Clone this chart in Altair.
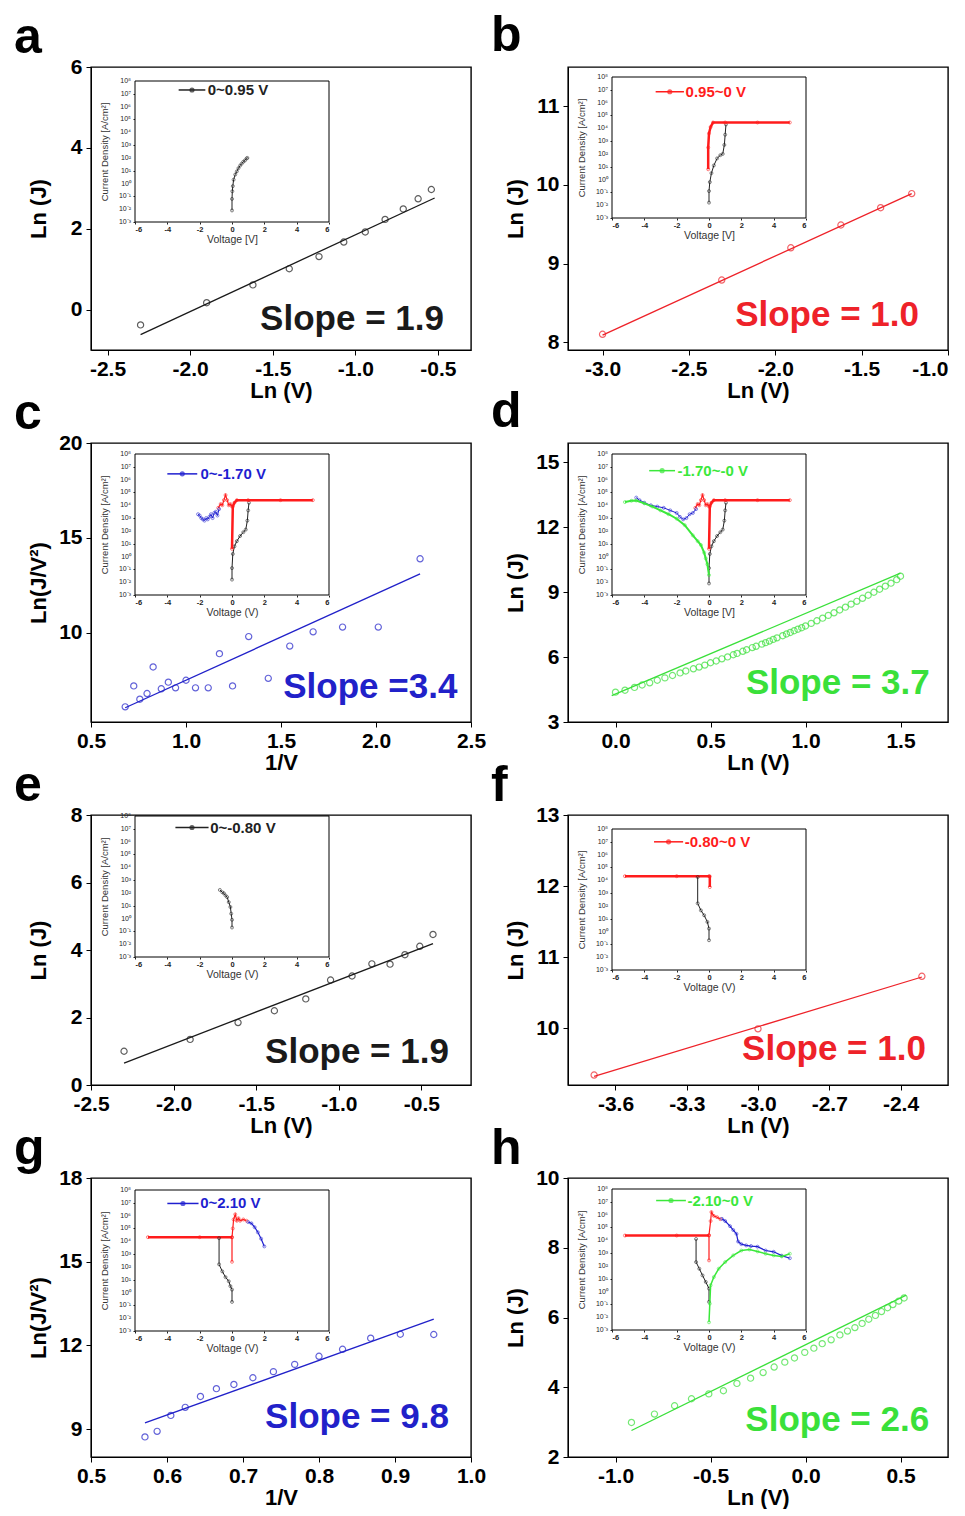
import altair as alt
import pandas as pd

FONT = "Liberation Sans"
C_BLACK = "#1a1a1a"
C_RED = "#ee2229"
C_BLUE = "#2121c9"
C_GREEN = "#3ae03a"

# ---------------- main-plot data ----------------
A_X = [-2.30, -1.90, -1.62, -1.40, -1.22, -1.07, -0.94, -0.82, -0.71, -0.62, -0.54]
A_Y = [-0.38, 0.17, 0.61, 1.01, 1.31, 1.67, 1.92, 2.23, 2.49, 2.74, 2.97]
A_FIT_X = [-2.30, -0.52]
A_FIT_Y = [-0.62, 2.76]

B_X = [-3.00, -2.31, -1.91, -1.62, -1.39, -1.21]
B_Y = [8.10, 8.79, 9.20, 9.49, 9.71, 9.89]
B_FIT_X = [-3.00, -1.21]
B_FIT_Y = [8.09, 9.89]

C_X = [0.68, 0.725, 0.757, 0.795, 0.827, 0.87, 0.907, 0.945, 1.00, 1.05, 1.117, 1.176,
       1.245, 1.33, 1.433, 1.546, 1.669, 1.824, 2.012, 2.232]
C_Y = [6.1, 7.2, 6.5, 6.8, 8.2, 7.05, 7.4, 7.1, 7.5, 7.1, 7.1, 8.9,
       7.2, 9.8, 7.6, 9.3, 10.05, 10.3, 10.3, 13.9]
C_FIT_X = [0.68, 2.232]
C_FIT_Y = [6.05, 13.1]

D_X = [0.00, 0.05, 0.10, 0.14, 0.18, 0.22, 0.26, 0.30, 0.34, 0.37, 0.41, 0.44, 0.47,
       0.50, 0.53, 0.56, 0.59, 0.62, 0.64, 0.67, 0.69, 0.72, 0.74, 0.77, 0.79, 0.81,
       0.83, 0.85, 0.88, 0.90, 0.92, 0.94, 0.96, 0.98, 1.00, 1.03, 1.06, 1.09, 1.12,
       1.15, 1.18, 1.21, 1.24, 1.27, 1.30, 1.33, 1.36, 1.39, 1.42, 1.45, 1.48, 1.50]
D_Y = [4.38, 4.47, 4.60, 4.71, 4.81, 4.93, 5.04, 5.15, 5.27, 5.36, 5.46, 5.54, 5.63,
       5.74, 5.82, 5.92, 6.01, 6.11, 6.17, 6.27, 6.34, 6.44, 6.50, 6.60, 6.67, 6.74,
       6.82, 6.89, 6.99, 7.07, 7.14, 7.22, 7.29, 7.36, 7.44, 7.56, 7.68, 7.80, 7.93,
       8.05, 8.18, 8.31, 8.45, 8.58, 8.72, 8.86, 9.00, 9.14, 9.28, 9.42, 9.58, 9.74]
D_FIT_X = [-0.02, 1.50]
D_FIT_Y = [4.22, 9.88]

E_X = [-2.30, -1.90, -1.61, -1.39, -1.20, -1.05, -0.92, -0.80, -0.69, -0.60, -0.51, -0.43]
E_Y = [1.00, 1.35, 1.85, 2.20, 2.55, 3.11, 3.23, 3.59, 3.58, 3.86, 4.11, 4.46]
E_FIT_X = [-2.30, -0.43]
E_FIT_Y = [0.65, 4.19]

F_X = [-3.69, -3.00, -2.31]
F_Y = [9.34, 9.99, 10.73]
F_FIT_X = [-3.69, -2.31]
F_FIT_Y = [9.32, 10.72]

G_X = [0.571, 0.587, 0.605, 0.624, 0.644, 0.665, 0.688, 0.713, 0.740, 0.768, 0.800,
       0.831, 0.868, 0.907, 0.951]
G_Y = [8.72, 8.92, 9.49, 9.78, 10.17, 10.45, 10.60, 10.84, 11.06, 11.32, 11.61,
       11.86, 12.26, 12.40, 12.39]
G_FIT_X = [0.571, 0.951]
G_FIT_Y = [9.22, 12.94]

H_X = [-0.916, -0.795, -0.689, -0.600, -0.509, -0.432, -0.361, -0.289, -0.223, -0.165,
       -0.109, -0.058, -0.004, 0.044, 0.088, 0.135, 0.181, 0.221, 0.260, 0.298, 0.333,
       0.368, 0.400, 0.432, 0.460, 0.491, 0.519]
H_Y = [2.99, 3.23, 3.47, 3.67, 3.81, 3.90, 4.11, 4.26, 4.42, 4.58, 4.72, 4.84, 5.00,
       5.12, 5.25, 5.36, 5.50, 5.61, 5.71, 5.83, 5.95, 6.06, 6.17, 6.28, 6.37, 6.47, 6.56]
H_FIT_X = [-0.916, 0.53]
H_FIT_Y = [2.76, 6.64]

# ---------------- inset data: (voltage V, log10 current density) ----------------
INSET_V_TICKS = [-6, -4, -2, 0, 2, 4, 6]
INSET_LOGJ_TICKS = [-3, -2, -1, 0, 1, 2, 3, 4, 5, 6, 7, 8]
INSET_LOGJ_LABELS = ["10⁻³", "10⁻²", "10⁻¹", "10⁰", "10¹", "10²", "10³", "10⁴",
                     "10⁵", "10⁶", "10⁷", "10⁸"]

A_IN_BLACK = [(0.0, -2.1), (0.0, -1.2), (0.02, -0.6), (0.05, -0.2), (0.1, 0.3), (0.2, 0.7),
              (0.3, 0.95), (0.4, 1.2), (0.5, 1.4), (0.6, 1.55), (0.7, 1.7), (0.8, 1.8),
              (0.9, 1.95), (0.95, 2.0)]

B_IN_BLACK = [(0.0, -1.8), (0.0, -0.9), (0.05, -0.2), (0.15, 0.5), (0.3, 1.1), (0.5, 1.65),
              (0.7, 1.9), (0.85, 2.0), (0.95, 2.7), (1.0, 3.5), (1.05, 4.3)]
B_IN_RED = [(5.0, 4.45), (3.0, 4.45), (1.0, 4.45), (0.25, 4.45), (0.1, 4.1), (0.0, 3.6),
            (-0.05, 2.5), (-0.05, 0.8)]

C_IN_BLACK = [(0.0, -1.8), (0.0, -0.9), (0.05, 0.2), (0.15, 0.8), (0.3, 1.2), (0.5, 1.6),
              (0.7, 1.9), (0.85, 2.1), (0.95, 2.8), (1.0, 3.6), (1.05, 4.2)]
C_IN_RED = [(5.0, 4.4), (3.0, 4.4), (1.0, 4.4), (0.3, 4.4), (0.15, 4.2), (0.05, 3.9),
            (0.0, 0.6)]
C_IN_RED_NEG = [(0.0, 3.9), (-0.1, 4.1), (-0.2, 4.0), (-0.3, 4.4), (-0.4, 4.8), (-0.5, 4.4),
                (-0.6, 4.0), (-0.7, 4.1), (-0.85, 3.8)]
C_IN_BLUE = [(-0.8, 3.7), (-0.9, 3.2), (-1.0, 3.5), (-1.1, 3.4), (-1.2, 3.0), (-1.3, 3.3),
             (-1.4, 3.1), (-1.5, 2.9), (-1.6, 3.0), (-1.7, 2.8), (-1.8, 2.9), (-1.9, 3.0),
             (-2.0, 3.2), (-2.1, 3.3)]

D_IN_BLACK = [(0.0, -2.1), (0.0, -0.9), (0.05, 0.2), (0.15, 0.8), (0.3, 1.2), (0.5, 1.6),
              (0.7, 1.9), (0.85, 2.1), (0.95, 2.8), (1.0, 3.6), (1.05, 4.2)]
D_IN_RED = [(5.0, 4.4), (3.0, 4.4), (1.0, 4.4), (0.3, 4.4), (0.15, 4.2), (0.05, 3.9),
            (0.0, 0.6)]
D_IN_RED_NEG = [(0.0, 3.9), (-0.1, 4.1), (-0.2, 4.0), (-0.3, 4.4), (-0.4, 4.8), (-0.5, 4.4),
                (-0.6, 4.0), (-0.7, 4.1), (-0.85, 3.8)]
D_IN_BLUE = [(-0.8, 3.7), (-1.0, 3.4), (-1.2, 3.3), (-1.4, 3.0), (-1.6, 2.9), (-1.8, 3.1),
             (-2.0, 3.4), (-2.4, 3.6), (-2.8, 3.8), (-3.2, 3.9), (-3.6, 4.0), (-4.0, 4.2),
             (-4.3, 4.4), (-4.5, 4.6)]
D_IN_GREEN = [(-5.2, 4.25), (-4.8, 4.35), (-4.5, 4.37), (-4.0, 4.15), (-3.5, 3.9),
              (-3.0, 3.6), (-2.5, 3.3), (-2.0, 2.95), (-1.5, 2.45), (-1.0, 1.65),
              (-0.7, 1.2), (-0.5, 0.9), (-0.3, 0.3), (-0.2, -0.15), (-0.1, -0.6), (0.0, -1.45)]

E_IN_BLACK = [(0.0, -0.7), (0.0, -0.1), (-0.05, 0.38), (-0.1, 0.9), (-0.2, 1.28),
              (-0.3, 1.67), (-0.4, 1.8), (-0.5, 1.97), (-0.6, 2.05), (-0.75, 2.23)]

F_IN_RED = [(-5.2, 4.32), (-2.0, 4.32), (0.0, 4.32), (0.05, 4.3), (0.05, 3.47)]
F_IN_BLACK = [(-0.7, 4.25), (-0.7, 2.2), (-0.5, 1.65), (-0.3, 1.27), (-0.1, 0.75),
              (0.0, 0.23), (0.0, -0.68)]

G_IN_RED_FLAT = [(-5.2, 4.32), (-2.0, 4.32), (0.0, 4.32)]
G_IN_RED = [(0.0, 2.4), (0.0, 4.3), (0.05, 5.0), (0.1, 5.7), (0.2, 6.1), (0.3, 5.6),
            (0.4, 5.8), (0.5, 5.6), (0.7, 5.7), (0.9, 5.6)]
G_IN_BLUE = [(1.0, 5.5), (1.2, 5.4), (1.4, 5.1), (1.6, 4.7), (1.8, 4.2), (2.0, 3.6)]
G_IN_BLACK = [(-0.8, 4.24), (-0.8, 2.2), (-0.6, 1.65), (-0.4, 1.2), (-0.2, 0.88),
              (-0.1, 0.5), (0.0, 0.23), (0.0, -0.73)]

H_IN_RED_FLAT = [(-5.2, 4.37), (-2.0, 4.37), (0.0, 4.37)]
H_IN_RED = [(0.0, 2.43), (0.0, 4.4), (0.1, 5.5), (0.15, 6.2), (0.3, 5.9), (0.5, 5.8),
            (0.7, 5.65)]
H_IN_BLUE = [(0.8, 5.67), (1.0, 5.5), (1.3, 5.1), (1.5, 4.8), (1.7, 4.5), (1.8, 3.9),
             (2.0, 3.7), (2.3, 3.6), (2.6, 3.55), (3.0, 3.5), (3.5, 3.2), (4.0, 3.1),
             (4.5, 2.8), (5.0, 2.6)]
H_IN_GREEN = [(0.0, -2.4), (0.05, -0.94), (0.1, 0.49), (0.3, 1.13), (0.6, 1.78), (1.0, 2.3),
              (1.5, 2.82), (2.0, 3.2), (2.5, 3.28), (3.0, 3.13), (3.5, 2.95), (4.0, 2.82),
              (4.5, 2.74), (5.0, 2.95)]
H_IN_BLACK = [(-0.8, 4.1), (-0.8, 2.3), (-0.6, 1.78), (-0.4, 1.26), (-0.2, 0.75),
              (0.0, 0.23), (0.0, -0.8)]

# ---------------- helpers ----------------
W = 380
INSET_X0, INSET_X1 = 44, 238


def neg_label(fmt):
    return (f"datum.value < 0 ? '-' + format(-datum.value, '{fmt}') : "
            f"format(datum.value, '{fmt}')")


def main_group(xs, ys, fx, fy, color, xdom, ydom, xticks, yticks, xtitle, ytitle,
               slope, sx, sy, xflush=False):
    xsc = alt.Scale(domain=xdom, nice=False, zero=False)
    ysc = alt.Scale(domain=ydom, nice=False, zero=False)
    xaxis = alt.Axis(values=xticks, labelExpr=neg_label(".1f"), title=xtitle,
                     orient="bottom", grid=False, labelFont=FONT, titleFont=FONT,
                     labelFontSize=21, titleFontSize=22, labelFontWeight="bold",
                     titleFontWeight="bold", labelColor="black", titleColor="black",
                     tickColor="black", domainColor="black", tickSize=5,
                     labelPadding=3, titlePadding=1, labelFlush=xflush)
    yaxis = alt.Axis(values=yticks, format="d", title=ytitle, orient="left", grid=False,
                     labelFont=FONT, titleFont=FONT, labelFontSize=21, titleFontSize=22,
                     labelFontWeight="bold", titleFontWeight="bold", labelColor="black",
                     titleColor="black", tickColor="black", domainColor="black",
                     tickSize=5, labelPadding=4, titlePadding=13, minExtent=28,
                     maxExtent=28, labelFlush=False)
    pts = alt.Chart(pd.DataFrame({"x": xs, "y": ys})).mark_point(
        shape="circle", filled=False, size=38, strokeWidth=1.2, color=color
    ).encode(x=alt.X("x:Q", scale=xsc, axis=xaxis), y=alt.Y("y:Q", scale=ysc, axis=yaxis))
    fit = alt.Chart(pd.DataFrame({"x": fx, "y": fy})).mark_line(
        color=color, strokeWidth=1.3
    ).encode(x="x:Q", y="y:Q")
    txt = alt.Chart(pd.DataFrame({"x": [sx], "y": [sy], "t": [slope]})).mark_text(
        font=FONT, fontSize=35, fontWeight="bold", color=color, align="center",
        baseline="middle"
    ).encode(x="x:Q", y="y:Q", text="t:N")
    return alt.layer(pts, fit, txt)


def inset_group(height, top, curves, legend, xtitle):
    bottom = top + 141
    xsc = alt.Scale(domain=[-6, 6], range=[INSET_X0, INSET_X1], nice=False, zero=False)
    ysc = alt.Scale(domain=[-3, 8], range=[bottom, top], nice=False, zero=False)
    xaxis = alt.Axis(orient="bottom", offset=bottom - height, values=INSET_V_TICKS,
                     labelExpr=neg_label(".0f"), title=xtitle, grid=False, domain=False,
                     labelFont=FONT, titleFont=FONT, labelFontSize=7.5, titleFontSize=10.5,
                     labelFontWeight="bold", labelOverlap=False,
                     labelColor="#222", titleColor="#333", tickColor="#222", tickSize=2,
                     labelPadding=1, titlePadding=2, titleFontWeight="normal")
    yaxis = alt.Axis(orient="left", offset=-INSET_X0, values=INSET_LOGJ_TICKS,
                     labels=False, title="Current Density [A/cm²]",
                     grid=False, domain=False, titleFont=FONT, titleFontSize=9.5,
                     titleColor="#333", tickColor="#222", tickSize=2, minExtent=0,
                     maxExtent=0, titlePadding=26, titleFontWeight="normal")
    frame = alt.Chart(pd.DataFrame({"v": [-6], "v2": [6], "j": [-3], "j2": [8]})).mark_rect(
        fill="white", stroke="black", strokeWidth=1
    ).encode(x=alt.X("v:Q", scale=xsc, axis=xaxis), x2="v2:Q",
             y=alt.Y("j:Q", scale=ysc, axis=yaxis), y2="j2:Q")
    layers = [frame]
    ldf_ticks = pd.DataFrame({"v": [-6] * len(INSET_LOGJ_TICKS), "j": INSET_LOGJ_TICKS,
                              "t": INSET_LOGJ_LABELS})
    layers.append(alt.Chart(ldf_ticks).mark_text(
        font=FONT, fontSize=7, color="#222", align="right", baseline="middle", dx=-4
    ).encode(x="v:Q", y="j:Q", text="t:N"))
    for pts, color, width in curves:
        df = pd.DataFrame({"v": [p[0] for p in pts], "j": [p[1] for p in pts],
                           "i": list(range(len(pts)))})
        base = alt.Chart(df).encode(x="v:Q", y="j:Q", order="i:Q")
        layers.append(base.mark_line(color=color, strokeWidth=width))
        layers.append(base.mark_point(shape="circle", filled=False, size=9,
                                      strokeWidth=0.8, color=color))
    text, color, lx1, lx2, tx, ly = legend
    ldf = pd.DataFrame({"v": [lx1, lx2], "j": [ly, ly], "i": [0, 1]})
    layers.append(alt.Chart(ldf).mark_line(color=color, strokeWidth=1.5).encode(
        x="v:Q", y="j:Q", order="i:Q"))
    mdf = pd.DataFrame({"v": [(lx1 + lx2) / 2], "j": [ly]})
    layers.append(alt.Chart(mdf).mark_point(shape="circle", filled=False, size=10,
                                            color=color).encode(x="v:Q", y="j:Q"))
    tdf = pd.DataFrame({"v": [tx], "j": [ly], "t": [text]})
    layers.append(alt.Chart(tdf).mark_text(font=FONT, fontSize=15, fontWeight="bold",
                                           color=color, align="left", baseline="middle").encode(
        x="v:Q", y="j:Q", text="t:N"))
    return alt.layer(*layers)


def panel(letter, height, main, inset, title_offset):
    return alt.layer(main, inset).resolve_scale(x="independent", y="independent").properties(
        width=W, height=height,
        title=alt.TitleParams(letter, anchor="start", fontSize=50, fontWeight="bold",
                              font=FONT, color="black", offset=title_offset, dx=-13))


R, K, B, G = "#ff1c1c", "#222222", "#1f1fd0", "#3be83b"
H1, H2, H3, H4 = 283, 279, 270, 279
T_LAB, T_NOLAB = -7, 6

pa = panel("a", H1,
           main_group(A_X, A_Y, A_FIT_X, A_FIT_Y, C_BLACK, [-2.6, -0.3], [-1, 6],
                      [-2.5, -2.0, -1.5, -1.0, -0.5], [0, 2, 4, 6], "Ln (V)", "Ln (J)",
                      "Slope = 1.9", -1.02, -0.23),
           inset_group(H1, 14, [(A_IN_BLACK, K, 1)],
                       ("0~0.95 V", K, -3.3, -1.65, -1.5, 7.3), "Voltage [V]"), T_LAB)
pb = panel("b", H1,
           main_group(B_X, B_Y, B_FIT_X, B_FIT_Y, C_RED, [-3.2, -1.0], [7.9, 11.5],
                      [-3.0, -2.5, -2.0, -1.5, -1.0], [8, 9, 10, 11], "Ln (V)", "Ln (J)",
                      "Slope = 1.0", -1.70, 8.34, xflush=True),
           inset_group(H1, 10, [(B_IN_BLACK, K, 1), (B_IN_RED, R, 2.5)],
                       ("0.95~0 V", R, -3.3, -1.55, -1.45, 6.85), "Voltage [V]"), T_NOLAB)
pc = panel("c", H2,
           main_group(C_X, C_Y, C_FIT_X, C_FIT_Y, C_BLUE, [0.5, 2.5], [5.3, 20],
                      [0.5, 1.0, 1.5, 2.0, 2.5], [10, 15, 20], "1/V", "Ln(J/V²)",
                      "Slope =3.4", 1.97, 7.16),
           inset_group(H2, 11, [(C_IN_BLACK, K, 1), (C_IN_RED, R, 2.5),
                                (C_IN_RED_NEG, R, 1.2), (C_IN_BLUE, B, 1)],
                       ("0~-1.70 V", B, -4.0, -2.15, -1.95, 6.45), "Voltage (V)"), T_LAB)
pd_ = panel("d", H2,
            main_group(D_X, D_Y, D_FIT_X, D_FIT_Y, C_GREEN, [-0.25, 1.75], [3, 15.9],
                       [0.0, 0.5, 1.0, 1.5], [3, 6, 9, 12, 15], "Ln (V)", "Ln (J)",
                       "Slope = 3.7", 1.17, 4.79),
            inset_group(H2, 11, [(D_IN_BLACK, K, 1), (D_IN_RED, R, 2.5),
                                 (D_IN_RED_NEG, R, 1.2), (D_IN_BLUE, B, 1),
                                 (D_IN_GREEN, G, 2)],
                        ("-1.70~-0 V", G, -3.7, -2.1, -1.95, 6.7), "Voltage [V]"), T_NOLAB)
pe = panel("e", H3,
           main_group(E_X, E_Y, E_FIT_X, E_FIT_Y, C_BLACK, [-2.5, -0.2], [0, 8],
                      [-2.5, -2.0, -1.5, -1.0, -0.5], [0, 2, 4, 6, 8], "Ln (V)", "Ln (J)",
                      "Slope = 1.9", -0.89, 0.99),
           inset_group(H3, 1, [(E_IN_BLACK, K, 1)],
                       ("0~-0.80 V", K, -3.5, -1.45, -1.35, 7.1), "Voltage (V)"), T_LAB)
pf = panel("f", H3,
           main_group(F_X, F_Y, F_FIT_X, F_FIT_Y, C_RED, [-3.8, -2.2], [9.2, 13],
                      [-3.6, -3.3, -3.0, -2.7, -2.4], [10, 11, 12, 13], "Ln (V)", "Ln (J)",
                      "Slope = 1.0", -2.68, 9.70),
           inset_group(H3, 14, [(F_IN_RED, R, 2.5), (F_IN_BLACK, K, 1)],
                       ("-0.80~0 V", R, -3.4, -1.6, -1.5, 7.0), "Voltage (V)"), T_LAB)
pg = panel("g", H4,
           main_group(G_X, G_Y, G_FIT_X, G_FIT_Y, C_BLUE, [0.5, 1.0], [8, 18],
                      [0.5, 0.6, 0.7, 0.8, 0.9, 1.0], [9, 12, 15, 18], "1/V", "Ln(J/V²)",
                      "Slope = 9.8", 0.85, 9.42),
           inset_group(H4, 12, [(G_IN_RED_FLAT, R, 2.5), (G_IN_BLACK, K, 1),
                                (G_IN_RED, R, 1.2), (G_IN_BLUE, B, 1.2)],
                       ("0~2.10 V", B, -4.0, -2.07, -1.97, 6.95), "Voltage (V)"), T_LAB)
ph = panel("h", H4,
           main_group(H_X, H_Y, H_FIT_X, H_FIT_Y, C_GREEN, [-1.25, 0.75], [2, 10],
                      [-1.0, -0.5, 0.0, 0.5], [2, 4, 6, 8, 10], "Ln (V)", "Ln (J)",
                      "Slope = 2.6", 0.167, 3.06),
           inset_group(H4, 11, [(H_IN_RED_FLAT, R, 2.5), (H_IN_BLACK, K, 1),
                                (H_IN_RED, R, 1.2), (H_IN_BLUE, B, 1.2),
                                (H_IN_GREEN, G, 1.5)],
                       ("-2.10~0 V", G, -3.27, -1.43, -1.33, 7.1), "Voltage (V)"), T_LAB)

chart = alt.concat(pa, pb, pc, pd_, pe, pf, pg, ph, columns=2,
                   spacing=alt.RowColnumber(row=93, column=97), bounds="flush").properties(
    padding={"left": 5, "top": 2, "right": 0, "bottom": 0}
).configure_view(stroke="black", strokeWidth=1.4)

chart.save("out.html", embed_options={"renderer": "svg", "actions": False})
